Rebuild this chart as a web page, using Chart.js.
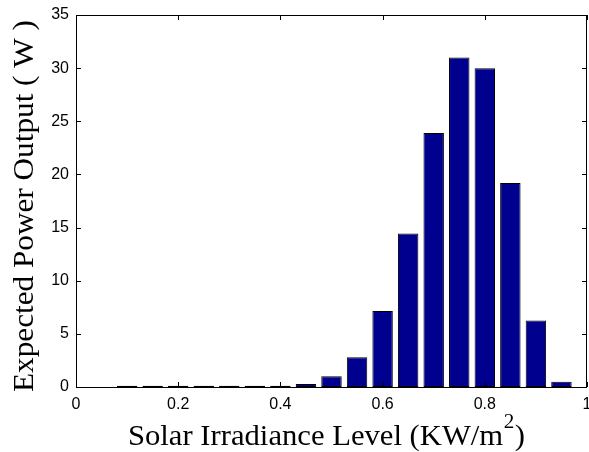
<!DOCTYPE html>
<html>
<head>
<meta charset="utf-8">
<script src="https://cdn.jsdelivr.net/npm/chart.js@4"></script>
<style>
  html, body { margin: 0; padding: 0; background: #fff; }
  #wrap { width: 589px; height: 452px; position: relative; }
</style>
</head>
<body>
<div id="wrap"><canvas id="c" width="589" height="452"></canvas></div>
<script>
const irradiance = [0.10, 0.15, 0.20, 0.25, 0.30, 0.35, 0.40, 0.45, 0.50, 0.55, 0.60, 0.65, 0.70, 0.75, 0.80, 0.85, 0.90, 0.95];
const powerOutput = [0.12, 0.12, 0.12, 0.12, 0.12, 0.12, 0.12, 0.28, 1.0, 2.8, 7.15, 14.45, 23.9, 31.0, 30.0, 19.2, 6.25, 0.5];
const xTicks = [0, 0.2, 0.4, 0.6, 0.8, 1];
const yTicks = [0, 5, 10, 15, 20, 25, 30, 35];
const xTitleMain = 'Solar Irradiance Level (KW/m';
const xTitleSup = '2';
const xTitleTail = ')';
const yTitle = 'Expected Power Output ( W )';

const boxPlugin = {
  id: 'box',
  afterDatasetsDraw(chart) {
    const { ctx, chartArea: a, scales: { x, y } } = chart;
    ctx.save();
    ctx.strokeStyle = '#000';
    ctx.lineWidth = 1;
    ctx.beginPath();
    ctx.rect(Math.round(a.left) + 0.5, Math.round(a.top) + 0.5, Math.round(a.right - a.left) - 1, Math.round(a.bottom - a.top));
    ctx.stroke();
    const L = 5;
    ctx.beginPath();
    xTicks.forEach(v => {
      const px = Math.round(x.getPixelForValue(v)) + 0.5;
      ctx.moveTo(px, a.bottom); ctx.lineTo(px, a.bottom - L);
      ctx.moveTo(px, a.top); ctx.lineTo(px, a.top + L);
    });
    yTicks.forEach(v => {
      const py = Math.round(y.getPixelForValue(v)) + 0.5;
      ctx.moveTo(a.left, py); ctx.lineTo(a.left + L, py);
      ctx.moveTo(a.right, py); ctx.lineTo(a.right - L, py);
    });
    ctx.stroke();
    ctx.restore();
  },
  afterDraw(chart) {
    const { ctx, chartArea: a } = chart;
    ctx.save();
    ctx.fillStyle = '#000';
    ctx.textBaseline = 'alphabetic';
    ctx.textAlign = 'left';
    // x title with superscript
    const mainFont = '29px "Liberation Serif"';
    const supFont = '20px "Liberation Serif"';
    ctx.font = mainFont;
    const wMain = ctx.measureText(xTitleMain).width;
    const wTail = ctx.measureText(xTitleTail).width;
    ctx.font = supFont;
    const wSup = ctx.measureText(xTitleSup).width;
    const total = wMain + wSup + 1 + wTail;
    const targetW = 397;
    const sx = targetW / total;
    const cx = (a.left + a.right) / 2 - 5;
    ctx.save();
    ctx.translate(cx - targetW / 2, 445);
    ctx.scale(sx, 1);
    ctx.font = mainFont;
    ctx.fillText(xTitleMain, 0, 0);
    ctx.font = supFont;
    ctx.fillText(xTitleSup, wMain + 0.5, -17);
    ctx.font = mainFont;
    ctx.fillText(xTitleTail, wMain + wSup + 1, 0);
    ctx.restore();
    // y title
    ctx.save();
    ctx.font = '30px "Liberation Serif"';
    const wy = ctx.measureText(yTitle).width;
    const sy = 372 / wy;
    ctx.translate(33, 206);
    ctx.rotate(-Math.PI / 2);
    ctx.scale(sy, 1);
    ctx.textAlign = 'center';
    ctx.fillText(yTitle, 0, 0);
    ctx.restore();
    ctx.restore();
  }
};

new Chart(document.getElementById('c'), {
  type: 'bar',
  data: {
    datasets: [{
      data: irradiance.map((v, i) => ({ x: v, y: powerOutput[i] })),
      backgroundColor: 'rgb(0,0,143)',
      borderColor: '#000',
      borderWidth: 1,
      borderSkipped: false,
      barPercentage: 0.8,
      categoryPercentage: 1.0
    }]
  },
  options: {
    responsive: false,
    animation: false,
    devicePixelRatio: 1,
    layout: { padding: { top: 15, right: 2, left: 0, bottom: 0 } },
    plugins: { legend: { display: false }, tooltip: { enabled: false } },
    scales: {
      x: {
        type: 'linear',
        offset: false,
        min: 0, max: 1,
        afterBuildTicks(s) { s.ticks = xTicks.map(v => ({ value: v })); },
        afterFit(s) { s.height = 65; s.paddingLeft = 0; s.paddingRight = 0; },
        ticks: {
          color: '#000', padding: 8, maxRotation: 0, autoSkip: false,
          font: { family: 'Liberation Sans', size: 16 },
          callback: v => String(v)
        },
        grid: { display: false, drawTicks: false, offset: false },
        border: { display: false },
        title: { display: false }
      },
      y: {
        min: 0, max: 35,
        afterBuildTicks(s) { s.ticks = yTicks.map(v => ({ value: v })); },
        afterFit(s) { s.width = 76; s.paddingTop = 0; s.paddingBottom = 0; },
        ticks: {
          color: '#000', padding: 7, autoSkip: false,
          font: { family: 'Liberation Sans', size: 16 }
        },
        grid: { display: false, drawTicks: false },
        border: { display: false },
        title: { display: false }
      }
    }
  },
  plugins: [boxPlugin]
});
</script>
</body>
</html>
